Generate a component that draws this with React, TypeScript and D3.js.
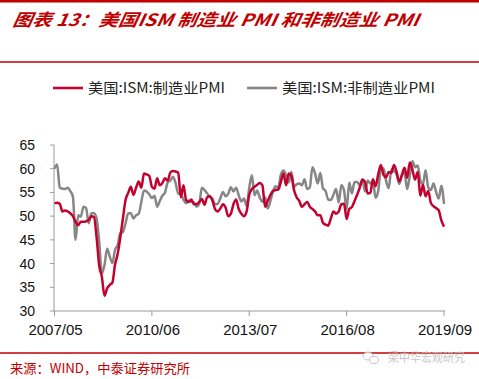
import React from "react";
import * as d3 from "d3";

const START_YEAR = 2007;
const START_MONTH = 5;

const mfgPMI: number[] = [
  // 2007 May-Dec
  52.7, 52.8, 52.6, 51.0, 51.2, 51.0, 50.6, 50.0,
  // 2008
  48.8, 48.1, 48.8, 48.8, 48.9, 49.2, 50.0, 49.8, 45.5, 39.5, 37.2, 33.2,
  // 2009
  34.8, 35.5, 36.0, 39.8, 42.0, 45.5, 49.5, 53.4, 54.9, 56.2, 54.5, 56.0,
  // 2010
  57.3, 56.0, 59.0, 58.8, 58.5, 56.2, 55.8, 58.0, 56.5, 57.0, 58.0, 57.5,
  // 2011
  59.2, 59.5, 59.4, 59.2, 54.0, 56.5, 53.4, 53.0, 53.5, 52.5, 52.5, 53.0,
  // 2012
  53.6, 52.4, 54.0, 54.2, 53.3, 51.5, 51.0, 51.6, 52.5, 51.8, 50.0, 50.5,
  // 2013
  52.5, 53.5, 51.5, 50.5, 50.0, 51.0, 54.5, 55.7, 56.2, 56.6, 57.0, 56.5,
  // 2014
  52.0, 53.2, 54.4, 55.3, 55.5, 55.6, 57.2, 59.0, 56.5, 59.0, 58.5, 55.5,
  // 2015
  54.0, 53.2, 52.0, 52.5, 53.0, 52.0, 51.5, 51.0, 50.2, 50.2, 48.6, 48.2,
  // 2016
  48.0, 49.5, 51.0, 50.5, 51.0, 52.5, 52.6, 49.4, 51.5, 51.9, 53.2, 54.5,
  // 2017
  56.0, 57.7, 57.2, 54.8, 54.9, 57.8, 56.3, 58.8, 60.8, 58.7, 58.2, 59.3,
  // 2018
  59.1, 60.8, 59.3, 57.3, 58.7, 60.2, 58.1, 61.3, 59.8, 57.7, 59.3, 54.3,
  // 2019 Jan-Sep
  56.6, 54.2, 55.3, 52.8, 52.1, 51.7, 51.2, 49.1, 47.8,
];

const nonMfgPMI: number[] = [
  // 2007 May-Dec
  60.0, 60.9, 56.0, 55.8, 55.7, 56.0, 55.3, 54.1,
  // 2008
  45.0, 50.2, 49.9, 52.0, 51.7, 48.5, 50.6, 50.6, 49.5, 44.6, 37.9, 39.7,
  // 2009
  43.1, 41.5, 40.1, 42.9, 43.9, 46.4, 46.7, 48.5, 50.6, 50.6, 49.5, 50.2,
  // 2010
  50.5, 53.0, 55.4, 55.2, 54.6, 53.8, 54.3, 52.0, 53.2, 54.3, 55.0, 57.1,
  // 2011
  57.5, 58.3, 57.0, 54.8, 54.6, 53.5, 52.7, 53.3, 53.0, 52.9, 52.0, 52.6,
  // 2012
  56.0, 55.5, 54.8, 54.0, 53.7, 52.5, 52.6, 53.7, 55.1, 54.2, 54.7, 56.1,
  // 2013
  55.2, 56.0, 54.4, 53.1, 53.7, 52.2, 56.0, 58.6, 54.4, 55.4, 53.9, 53.0,
  // 2014
  54.0, 51.6, 53.1, 55.2, 56.3, 56.0, 58.7, 59.6, 58.6, 57.1, 59.3, 56.2,
  // 2015
  56.7, 56.9, 56.5, 57.8, 55.7, 56.0, 60.3, 59.0, 56.9, 59.1, 55.9, 55.3,
  // 2016
  53.5, 53.4, 54.5, 55.7, 52.9, 56.5, 55.5, 51.4, 57.1, 54.8, 57.2, 57.2,
  // 2017
  56.5, 57.6, 55.2, 57.5, 56.9, 57.4, 53.9, 55.3, 59.8, 60.1, 57.4, 55.9,
  // 2018
  59.9, 59.5, 58.8, 56.8, 58.6, 59.1, 55.7, 58.5, 61.6, 60.3, 60.7, 57.6,
  // 2019 Jan-Sep
  56.7, 59.7, 56.1, 55.5, 56.9, 55.1, 53.7, 56.4, 52.6,
];

const xTickLabels: string[] = ["2007/05", "2010/06", "2013/07", "2016/08", "2019/09"];
const yTicks: number[] = [30, 35, 40, 45, 50, 55, 60, 65];

const seriesNames: string[] = ["美国:ISM:制造业PMI", "美国:ISM:非制造业PMI"];

const monthLabel = (i: number) => {
  const m0 = START_MONTH - 1 + i;
  const y = START_YEAR + Math.floor(m0 / 12);
  const m = (m0 % 12) + 1;
  return `${y}/${String(m).padStart(2, "0")}`;
};

const months: string[] = mfgPMI.map((_, i) => monthLabel(i));

const W = 479;
const H = 379;
const RED = "#C00000";
const LINE_RED = "#C4002F";
const LINE_GRAY = "#868686";
const AXIS = "#9a9a9a";

export default function App() {
  const x = d3
    .scalePoint<string>()
    .domain(months)
    .range([54.5, 444]);
  const y = d3.scaleLinear().domain([30, 65]).range([311, 145]);

  const line = d3
    .line<number>()
    .x((_, i) => x(months[i]) as number)
    .y((d) => y(d))
    .curve(d3.curveMonotoneX);

  const axisFont = "Arial, 'Liberation Sans', sans-serif";
  const cjkFont = "'Noto Sans CJK SC', sans-serif";

  return (
    <svg
      width={W}
      height={H}
      viewBox={`0 0 ${W} ${H}`}
      style={{ position: "absolute", left: 0, top: 0, background: "#fff" }}
    >
      <rect x={0} y={0} width={W} height={H} fill="#fff" />
      {/* top rule */}
      <line x1={0} x2={W} y1={1.2} y2={1.2} stroke={RED} strokeWidth={2.4} />
      {/* title */}
      <text
        x={12}
        y={26}
        fill={RED}
        fontFamily={cjkFont}
        fontWeight="bold"
        fontStyle="italic"
        fontSize={17}
        textLength={406}
        lengthAdjust="spacingAndGlyphs"
        style={{ transform: "skewX(-10deg)", transformOrigin: "12px 26px" }}
      >
        图表 13：美国ISM 制造业 PMI 和非制造业 PMI
      </text>
      <line x1={0} x2={W} y1={62} y2={62} stroke={RED} strokeWidth={1.3} />

      {/* legend */}
      <line x1={53} x2={83} y1={88} y2={88} stroke={LINE_RED} strokeWidth={2.6} />
      <text
        x={88}
        y={93}
        fontFamily={cjkFont}
        fontSize={14}
        fill="#222"
        textLength={137}
        lengthAdjust="spacingAndGlyphs"
      >
        {seriesNames[0]}
      </text>
      <line x1={247} x2={277} y1={88} y2={88} stroke={LINE_GRAY} strokeWidth={2.6} />
      <text
        x={282}
        y={93}
        fontFamily={cjkFont}
        fontSize={14}
        fill="#222"
        textLength={153}
        lengthAdjust="spacingAndGlyphs"
      >
        {seriesNames[1]}
      </text>

      {/* y axis */}
      <line x1={54} x2={54} y1={y(65)} y2={y(30)} stroke={AXIS} strokeWidth={1} />
      {yTicks.map((t) => (
        <g key={t}>
          <line x1={50} x2={54} y1={y(t)} y2={y(t)} stroke={AXIS} strokeWidth={1} />
          <text
            x={35}
            y={y(t)}
            dy="0.36em"
            textAnchor="end"
            fontFamily={axisFont}
            fontSize={14}
            fill="#111"
          >
            {t}
          </text>
        </g>
      ))}

      {/* x axis */}
      <line x1={54} x2={445} y1={y(30)} y2={y(30)} stroke={AXIS} strokeWidth={1} />
      {xTickLabels.map((lab) => {
        const xp = x(lab) as number;
        return (
          <g key={lab}>
            <line x1={xp} x2={xp} y1={y(30)} y2={y(30) + 5} stroke={AXIS} strokeWidth={1} />
            <text
              x={xp + 1}
              y={335}
              textAnchor="middle"
              fontFamily={axisFont}
              fontSize={15}
              fill="#111"
            >
              {lab}
            </text>
          </g>
        );
      })}

      {/* series */}
      <path
        d={line(nonMfgPMI) || ""}
        fill="none"
        stroke={LINE_GRAY}
        strokeWidth={2.5}
        strokeLinejoin="round"
      />
      <path
        d={line(mfgPMI) || ""}
        fill="none"
        stroke={LINE_RED}
        strokeWidth={2.5}
        strokeLinejoin="round"
      />

      {/* bottom rule */}
      <line x1={0} x2={W} y1={353} y2={353} stroke={RED} strokeWidth={1.3} />

      {/* watermark */}
      <g opacity={0.85}>
        <ellipse cx={368} cy={356} rx={5} ry={4} fill="#fff" stroke="#bdbdbd" strokeWidth={1} />
        <ellipse cx={374} cy={360} rx={4.5} ry={3.6} fill="#fff" stroke="#bdbdbd" strokeWidth={1} />
        <text
          x={388}
          y={362}
          fontFamily={cjkFont}
          fontSize={12}
          fill="#bdbdbd"
          textLength={77}
          lengthAdjust="spacingAndGlyphs"
        >
          梁中华宏观研究
        </text>
      </g>

      {/* source */}
      <text
        x={10}
        y={373}
        fontFamily={cjkFont}
        fontSize={13}
        fill={RED}
        textLength={180}
        lengthAdjust="spacingAndGlyphs"
      >
        来源：WIND，中泰证券研究所
      </text>
    </svg>
  );
}
